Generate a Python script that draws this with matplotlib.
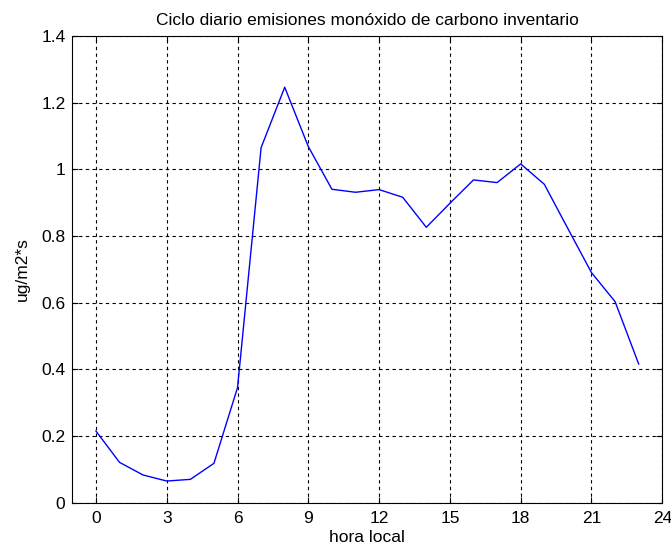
import matplotlib
matplotlib.use('Agg')
import matplotlib.pyplot as plt

plt.rcParams['font.family'] = ['Liberation Sans', 'DejaVu Sans']

# Hourly CO emissions (local time)
horas = list(range(24))
emision = [0.215, 0.121, 0.083, 0.065, 0.070, 0.118, 0.345, 1.065, 1.246, 1.068,
           0.940, 0.931, 0.939, 0.916, 0.826, 0.898, 0.968, 0.960, 1.016, 0.955,
           0.822, 0.690, 0.603, 0.416]
xticks = [0, 3, 6, 9, 12, 15, 18, 21, 24]
yticks = [0, 0.2, 0.4, 0.6, 0.8, 1, 1.2, 1.4]

fig = plt.figure(figsize=(6.71, 5.52), dpi=100)
ax = fig.add_axes([0.1078, 0.0893, 0.8792, 0.8457])

ax.plot(horas, emision, color='#0000ff', linewidth=1.0)

ax.set_xlim(-1, 24)
ax.set_ylim(0, 1.4)
ax.set_xticks(xticks)
ax.set_yticks(yticks)
ax.set_yticklabels(['0', '0.2', '0.4', '0.6', '0.8', '1', '1.2', '1.4'])

ax.grid(True, color='black', linestyle=(0, (3, 3)), linewidth=0.8)
ax.tick_params(direction='in', top=True, right=True, labelsize=12.5, length=4)
ax.tick_params(axis='x', pad=6)
ax.tick_params(axis='y', pad=5)
for s in ax.spines.values():
    s.set_linewidth(0.8)

ax.set_title('Ciclo diario emisiones monóxido de carbono inventario', fontsize=12.5, pad=8)
ax.set_xlabel('hora local', fontsize=12.5, labelpad=3)
ax.set_ylabel('ug/m2*s', fontsize=12.5, labelpad=8)

fig.savefig('out.png', dpi=100)
